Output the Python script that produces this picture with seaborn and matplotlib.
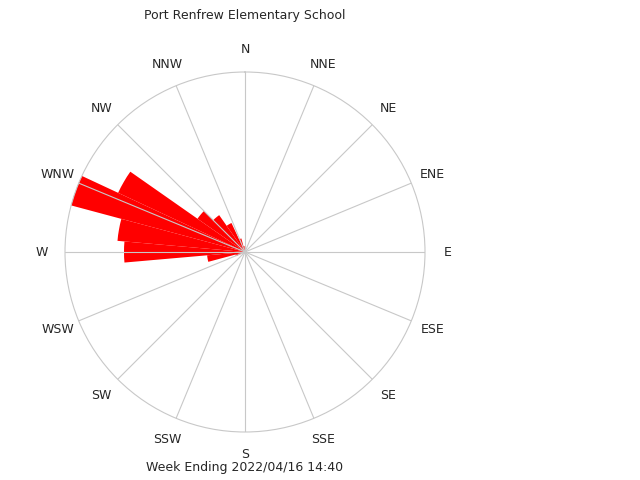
import numpy as np
import matplotlib
matplotlib.use("Agg")
import matplotlib.pyplot as plt
import seaborn as sns

sns.set_style("white")
plt.rcParams['font.family'] = ['DejaVu Sans']

# wind direction bins (degrees, compass) and petal lengths (circle radius = 180)
directions = [250, 260, 270, 280, 290, 300, 310, 320, 330, 340, 350]
lengths = [10, 38, 121, 128, 188, 140, 58, 45, 32, 14, 6]
compass = ["N", "NNE", "NE", "ENE", "E", "ESE", "SE", "SSE",
           "S", "SSW", "SW", "WSW", "W", "WNW", "NW", "NNW"]

fig = plt.figure(figsize=(6.4, 4.8), dpi=100)
ax = fig.add_axes([65 / 640, 48 / 480, 360 / 640, 360 / 480], projection="polar")
ax.set_theta_zero_location("N")
ax.set_theta_direction(-1)

theta = np.deg2rad(directions)
ax.bar(theta, lengths, width=np.deg2rad(10), color="red", edgecolor="none", zorder=1)

ax.set_ylim(0, 180)
ax.set_yticks([])
ax.set_xticks(np.deg2rad(np.arange(0, 360, 22.5)))
ax.set_xticklabels(compass, fontsize=9)
ax.tick_params(axis="x", pad=6)
ax.grid(True, color="#c8c8c8", linewidth=0.8, zorder=3)
ax.set_axisbelow(False)
ax.spines["polar"].set_color("#c8c8c8")
ax.spines["polar"].set_linewidth(0.8)

fig.text(245 / 640, 1 - 15 / 480, "Port Renfrew Elementary School", ha="center", va="center", fontsize=9)
fig.text(245 / 640, 1 - 467 / 480, "Week Ending 2022/04/16 14:40", ha="center", va="center", fontsize=9)

fig.savefig("out.png", dpi=100)
